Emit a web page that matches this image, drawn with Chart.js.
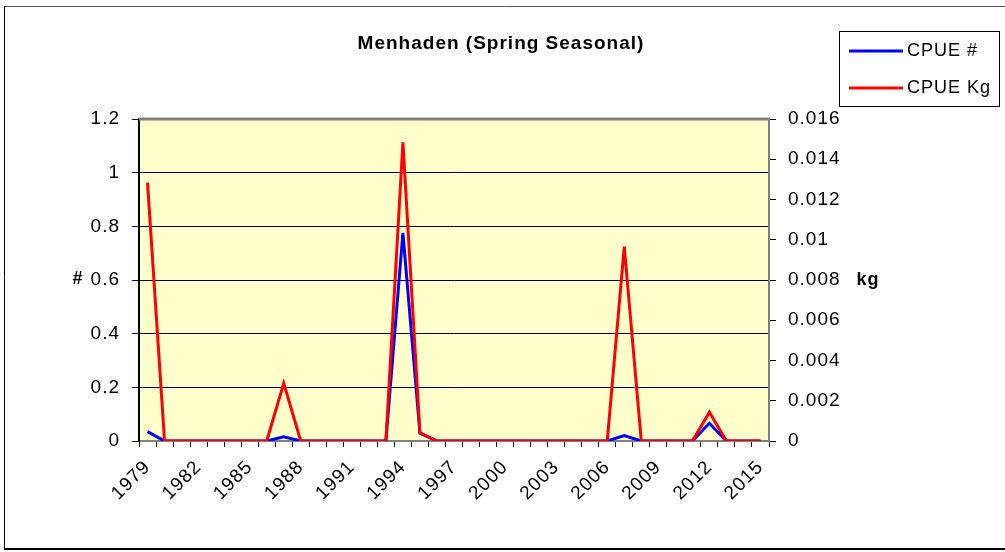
<!DOCTYPE html>
<html>
<head>
<meta charset="utf-8">
<script src="https://cdn.jsdelivr.net/npm/chart.js@4.4.1/dist/chart.umd.min.js"></script>
<style>
  html, body { margin: 0; padding: 0; background: #fff; }
  #wrap { width: 1005px; height: 552px; position: relative; }
</style>
</head>
<body>
<div id="wrap"><canvas id="c" width="1005" height="552"></canvas></div>
<script>
const years = ['1979','1980','1981','1982','1983','1984','1985','1986','1987','1988','1989','1990','1991','1992','1993','1994','1995','1996','1997','1998','1999','2000','2001','2002','2003','2004','2005','2006','2007','2008','2009','2010','2011','2012','2013','2014','2015'];
const cpueNum = [0.035,0,0,0,0,0,0,0,0.016,0,0,0,0,0,0,0.776,0.029,0,0,0,0,0,0,0,0,0,0,0,0.02,0,0,0,0,0.066,0,0,0];
const cpueKg = [0.01284,0,0,0,0,0,0,0,0.00287,0,0,0,0,0,0,0.01484,0.00041,0,0,0,0,0,0,0,0,0,0,0,0.00966,0,0,0,0,0.00143,0,0,0];
const numTickLabels = ['0','0.2','0.4','0.6','0.8','1','1.2'];
const kgTickLabels = ['0','0.002','0.004','0.006','0.008','0.01','0.012','0.014','0.016'];
const chartTitle = 'Menhaden (Spring Seasonal)';
const seriesNames = ['CPUE #', 'CPUE Kg'];
const seriesColors = ['#0000FF', '#FF0000'];
const leftAxisTitle = '#';
const rightAxisTitle = 'kg';

const FONT = '"Liberation Sans", Arial, sans-serif';

const spacingPlugin = {
  id: 'spacing',
  beforeLayout(chart) { chart.ctx.letterSpacing = '1px'; },
  beforeDraw(chart) { chart.ctx.letterSpacing = '1px'; }
};

const decorPlugin = {
  id: 'decor',
  beforeDraw(chart) {
    const ctx = chart.ctx, a = chart.chartArea;
    ctx.save();
    ctx.fillStyle = '#FFFFCC';
    ctx.fillRect(a.left, a.top, a.right - a.left, a.bottom - a.top);
    ctx.restore();
  },
  beforeDatasetsDraw(chart) {
    const ctx = chart.ctx, a = chart.chartArea;
    ctx.save();
    ctx.strokeStyle = '#808080';
    ctx.lineWidth = 3;
    ctx.beginPath();
    ctx.moveTo(a.left, a.top);
    ctx.lineTo(a.right + 1, a.top);
    ctx.stroke();
    ctx.restore();
  },
  afterDraw(chart) {
    const ctx = chart.ctx;
    ctx.save();
    ctx.letterSpacing = '1px';
    // outer frame
    ctx.strokeStyle = '#555';
    ctx.lineWidth = 1;
    ctx.beginPath(); ctx.moveTo(4, 6.5); ctx.lineTo(1005, 6.5); ctx.stroke();
    ctx.strokeStyle = '#000';
    ctx.beginPath(); ctx.moveTo(4.5, 6); ctx.lineTo(4.5, 549); ctx.stroke();
    ctx.lineWidth = 2;
    ctx.beginPath(); ctx.moveTo(4, 549); ctx.lineTo(1005, 549); ctx.stroke();
    // title
    ctx.fillStyle = '#000';
    ctx.font = 'bold 19px ' + FONT;
    ctx.textAlign = 'center';
    ctx.textBaseline = 'middle';
    ctx.fillText(chartTitle, 501, 44);
    // axis titles
    ctx.font = 'bold 18px ' + FONT;
    ctx.fillText(leftAxisTitle, 78, 279);
    ctx.fillText(rightAxisTitle, 868, 280);
    // legend
    ctx.lineWidth = 1;
    ctx.strokeStyle = '#000';
    ctx.strokeRect(839.5, 31.5, 160, 75);
    ctx.font = '18px ' + FONT;
    ctx.textAlign = 'left';
    const ys = [51, 88];
    for (let i = 0; i < 2; i++) {
      ctx.strokeStyle = seriesColors[i];
      ctx.lineWidth = 3;
      ctx.beginPath(); ctx.moveTo(849, ys[i]); ctx.lineTo(903, ys[i]); ctx.stroke();
      ctx.fillStyle = '#000';
      ctx.fillText(seriesNames[i], 907, ys[i]);
    }
    ctx.restore();
  }
};

new Chart(document.getElementById('c'), {
  type: 'line',
  data: {
    labels: years,
    datasets: [
      { label: seriesNames[1], data: cpueKg, yAxisID: 'y1', borderColor: seriesColors[1], backgroundColor: seriesColors[1], borderWidth: 3, pointRadius: 0, tension: 0, order: 0 },
      { label: seriesNames[0], data: cpueNum, yAxisID: 'y', borderColor: seriesColors[0], backgroundColor: seriesColors[0], borderWidth: 3, pointRadius: 0, tension: 0, order: 1 }
    ]
  },
  options: {
    responsive: false,
    animation: false,
    devicePixelRatio: 1,
    layout: { padding: { top: 119, left: 0, right: 0, bottom: 0 } },
    plugins: { legend: { display: false }, title: { display: false }, tooltip: { enabled: false } },
    scales: {
      x: {
        type: 'category',
        offset: true,
        afterFit(s) { s.height = 111; },
        grid: { offset: true, drawOnChartArea: false, tickLength: 6, color: '#000', tickColor: '#000' },
        border: { color: '#808080', width: 2 },
        ticks: {
          autoSkip: false, maxRotation: 45, minRotation: 45, padding: 9,
          color: '#000', font: { family: FONT, size: 19 },
          callback(v, i) { return i % 3 === 0 ? years[i] : ''; }
        }
      },
      y: {
        position: 'left', min: 0, max: 1.2,
        afterFit(s) { s.width = 139; },
        afterBuildTicks(s) { s.ticks = numTickLabels.map(t => ({ value: parseFloat(t) })); },
        grid: {
          color: c => (c.index === 0 || c.index === numTickLabels.length - 1) ? 'rgba(0,0,0,0)' : '#000',
          tickColor: '#000', lineWidth: 1, tickLength: 7
        },
        border: { color: '#000', width: 2 },
        ticks: { color: '#000', padding: 12, font: { family: FONT, size: 19 }, callback(v, i) { return numTickLabels[i]; } }
      },
      y1: {
        position: 'right', min: 0, max: 0.016,
        afterFit(s) { s.width = 236; },
        afterBuildTicks(s) { s.ticks = kgTickLabels.map(t => ({ value: parseFloat(t) })); },
        grid: { drawOnChartArea: false, color: '#000', tickColor: '#000', tickLength: 7 },
        border: { color: '#808080', width: 2 },
        ticks: { color: '#000', padding: 12, font: { family: FONT, size: 19 }, callback(v, i) { return kgTickLabels[i]; } }
      }
    }
  },
  plugins: [spacingPlugin, decorPlugin]
});
</script>
</body>
</html>
